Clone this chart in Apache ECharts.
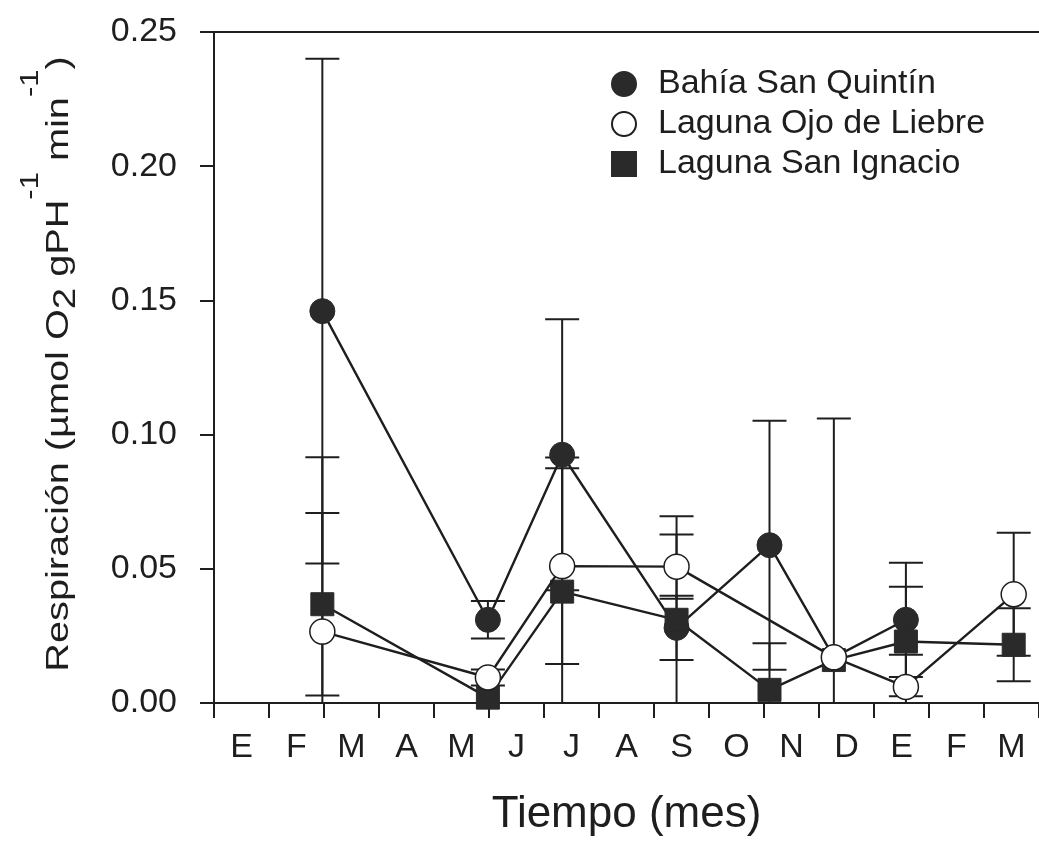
<!DOCTYPE html>
<html>
<head>
<meta charset="utf-8">
<script src="https://cdn.jsdelivr.net/npm/echarts@6/dist/echarts.min.js"></script>
<style>
html,body{margin:0;padding:0;background:#fff;}
#c{width:1039px;height:842px;}
</style>
</head>
<body>
<div id="c"></div>
<script>
// Month labels on the x axis (E = enero ... M = marzo of the following year)
const meses = ['E','F','M','A','M','J','J','A','S','O','N','D','E','F','M'];
// Sampling dates, in months from the start of January (axis units)
const fechas = [1.97, 4.98, 6.33, 8.41, 10.10, 11.27, 12.58, 14.54];
// Bahía San Quintín: mean and error (null = no sample)
const bsqMedia = [0.146, 0.031, 0.0925, 0.028, 0.0588, 0.017, 0.031, null];
const bsqError = [0.094, 0.007, 0.0505, 0.012, 0.0464, 0.089, 0.0213, null];
// Laguna Ojo de Liebre
const lolMedia = [0.0266, 0.0095, 0.051, 0.0508, null, 0.017, 0.006, 0.0405];
const lolError = [0.065, 0.003, 0.0365, 0.012, null, 0, 0.012, 0.0229];
// Laguna San Ignacio
const lsiMedia = [0.0368, 0.002, 0.0415, 0.031, 0.0049, 0.016, 0.0229, 0.0217];
const lsiError = [0.034, 0, 0.050, 0.0386, 0.0174, 0, 0.0204, 0.0136];
// Y ticks
const yTicks = {min: 0, max: 0.25, step: 0.05};

const nombres = ['Bahía San Quintín', 'Laguna Ojo de Liebre', 'Laguna San Ignacio'];
const FONT = '"Liberation Sans", Arial, sans-serif';
const INK = '#1e1e1e';

function puntos(media) {
  const out = [];
  media.forEach((v, i) => { if (v !== null) out.push([fechas[i], v]); });
  return out;
}
function barras(media, err) {
  const out = [];
  media.forEach((v, i) => {
    if (v !== null && err[i]) out.push([fechas[i], v - err[i], v + err[i]]);
  });
  return out;
}
function renderError(params, api) {
  const x = api.value(0), lo = api.value(1), hi = api.value(2);
  const pHi = api.coord([x, hi]);
  const pLo = api.coord([x, lo]);
  const hw = 17;
  const st = {stroke: INK, lineWidth: 2};
  return {
    type: 'group',
    children: [
      {type: 'line', shape: {x1: pHi[0], y1: pHi[1], x2: pLo[0], y2: pLo[1]}, style: st},
      {type: 'line', shape: {x1: pHi[0] - hw, y1: pHi[1], x2: pHi[0] + hw, y2: pHi[1]}, style: st},
      {type: 'line', shape: {x1: pLo[0] - hw, y1: pLo[1], x2: pLo[0] + hw, y2: pLo[1]}, style: st}
    ]
  };
}
function errSeries(media, err) {
  return {
    type: 'custom', xAxisIndex: 1, yAxisIndex: 0, clip: true, z: 1,
    renderItem: renderError, encode: {x: 0, y: [1, 2]},
    data: barras(media, err), silent: true
  };
}

const chart = echarts.init(document.getElementById('c'), null, {renderer: 'canvas'});
chart.setOption({
  animation: false,
  backgroundColor: '#fff',
  textStyle: {fontFamily: FONT},
  grid: {left: 214, top: 32, right: -4.6, bottom: 137, containLabel: false},
  legend: {
    orient: 'vertical', left: 606, top: 59, itemWidth: 58, itemHeight: 24, itemGap: 0,
    textStyle: {fontSize: 34, color: INK, fontFamily: FONT, lineHeight: 40},
    data: [
      {name: nombres[0], icon: 'circle'},
      {name: nombres[1], icon: 'circle'},
      {name: nombres[2], icon: 'path://M0 0H10V10H0Z'}
    ]
  },
  graphic: [{
    type: 'text', x: 50, y: 364, rotation: Math.PI / 2, scaleX: 1.24, silent: true,
    style: {
      text: '{n|Respiración (µmol O}{sub|2}{n| gPH}{sup|-1}{n| min}{sup|-1}{n|)}',
      align: 'center', verticalAlign: 'middle', fill: INK,
      rich: {
        n: {fontSize: 32, fontFamily: FONT, fill: INK, verticalAlign: 'top', padding: [24.8, 0, 0, 0]},
        sub: {fontSize: 31, fontFamily: FONT, fill: INK, verticalAlign: 'top', padding: [32.6, 0, 0, 0]},
        sup: {fontSize: 25, fontFamily: FONT, fill: INK, verticalAlign: 'top', padding: [0.8, 0, 0, 0]}
      }
    }
  }],
  xAxis: [
    {
      type: 'category', data: meses, boundaryGap: true, position: 'bottom',
      axisLine: {lineStyle: {color: INK, width: 2}},
      axisTick: {show: true, inside: false, length: 15, interval: 0, lineStyle: {color: INK, width: 2}},
      axisLabel: {fontSize: 34, color: INK, margin: 28, interval: 0, fontFamily: FONT},
      splitLine: {show: false},
      name: 'Tiempo (mes)', nameLocation: 'middle', nameGap: 90,
      nameTextStyle: {fontSize: 44, color: INK, fontFamily: FONT}
    },
    {
      type: 'value', min: 0, max: meses.length, position: 'top',
      axisLine: {show: true, lineStyle: {color: INK, width: 2}},
      axisTick: {show: false}, axisLabel: {show: false}, splitLine: {show: false}
    }
  ],
  yAxis: {
    type: 'value', min: yTicks.min, max: yTicks.max, interval: yTicks.step,
    axisLine: {show: true, lineStyle: {color: INK, width: 2}},
    axisTick: {show: true, inside: false, length: 14, lineStyle: {color: INK, width: 2}},
    axisLabel: {fontSize: 34, color: INK, margin: 37, fontFamily: FONT, formatter: v => v.toFixed(2)},
    splitLine: {show: false}
  },
  series: [
    errSeries(bsqMedia, bsqError),
    errSeries(lolMedia, lolError),
    errSeries(lsiMedia, lsiError),
    {
      name: nombres[0], type: 'line', xAxisIndex: 1, yAxisIndex: 0, z: 3,
      data: puntos(bsqMedia), symbol: 'circle', symbolSize: 25,
      lineStyle: {color: INK, width: 2.4},
      itemStyle: {color: '#2a2a2a', borderColor: '#2a2a2a', borderWidth: 1}
    },
    {
      name: nombres[1], type: 'line', xAxisIndex: 1, yAxisIndex: 0, z: 4,
      data: puntos(lolMedia), symbol: 'circle', symbolSize: 25,
      lineStyle: {color: INK, width: 2.4},
      itemStyle: {color: '#ffffff', borderColor: INK, borderWidth: 1.5}
    },
    {
      name: nombres[2], type: 'line', xAxisIndex: 1, yAxisIndex: 0, z: 3,
      data: puntos(lsiMedia), symbol: 'rect', symbolSize: 23,
      lineStyle: {color: INK, width: 2.4},
      itemStyle: {color: '#2a2a2a', borderColor: '#2a2a2a', borderWidth: 1}
    }
  ]
});
</script>
</body>
</html>
